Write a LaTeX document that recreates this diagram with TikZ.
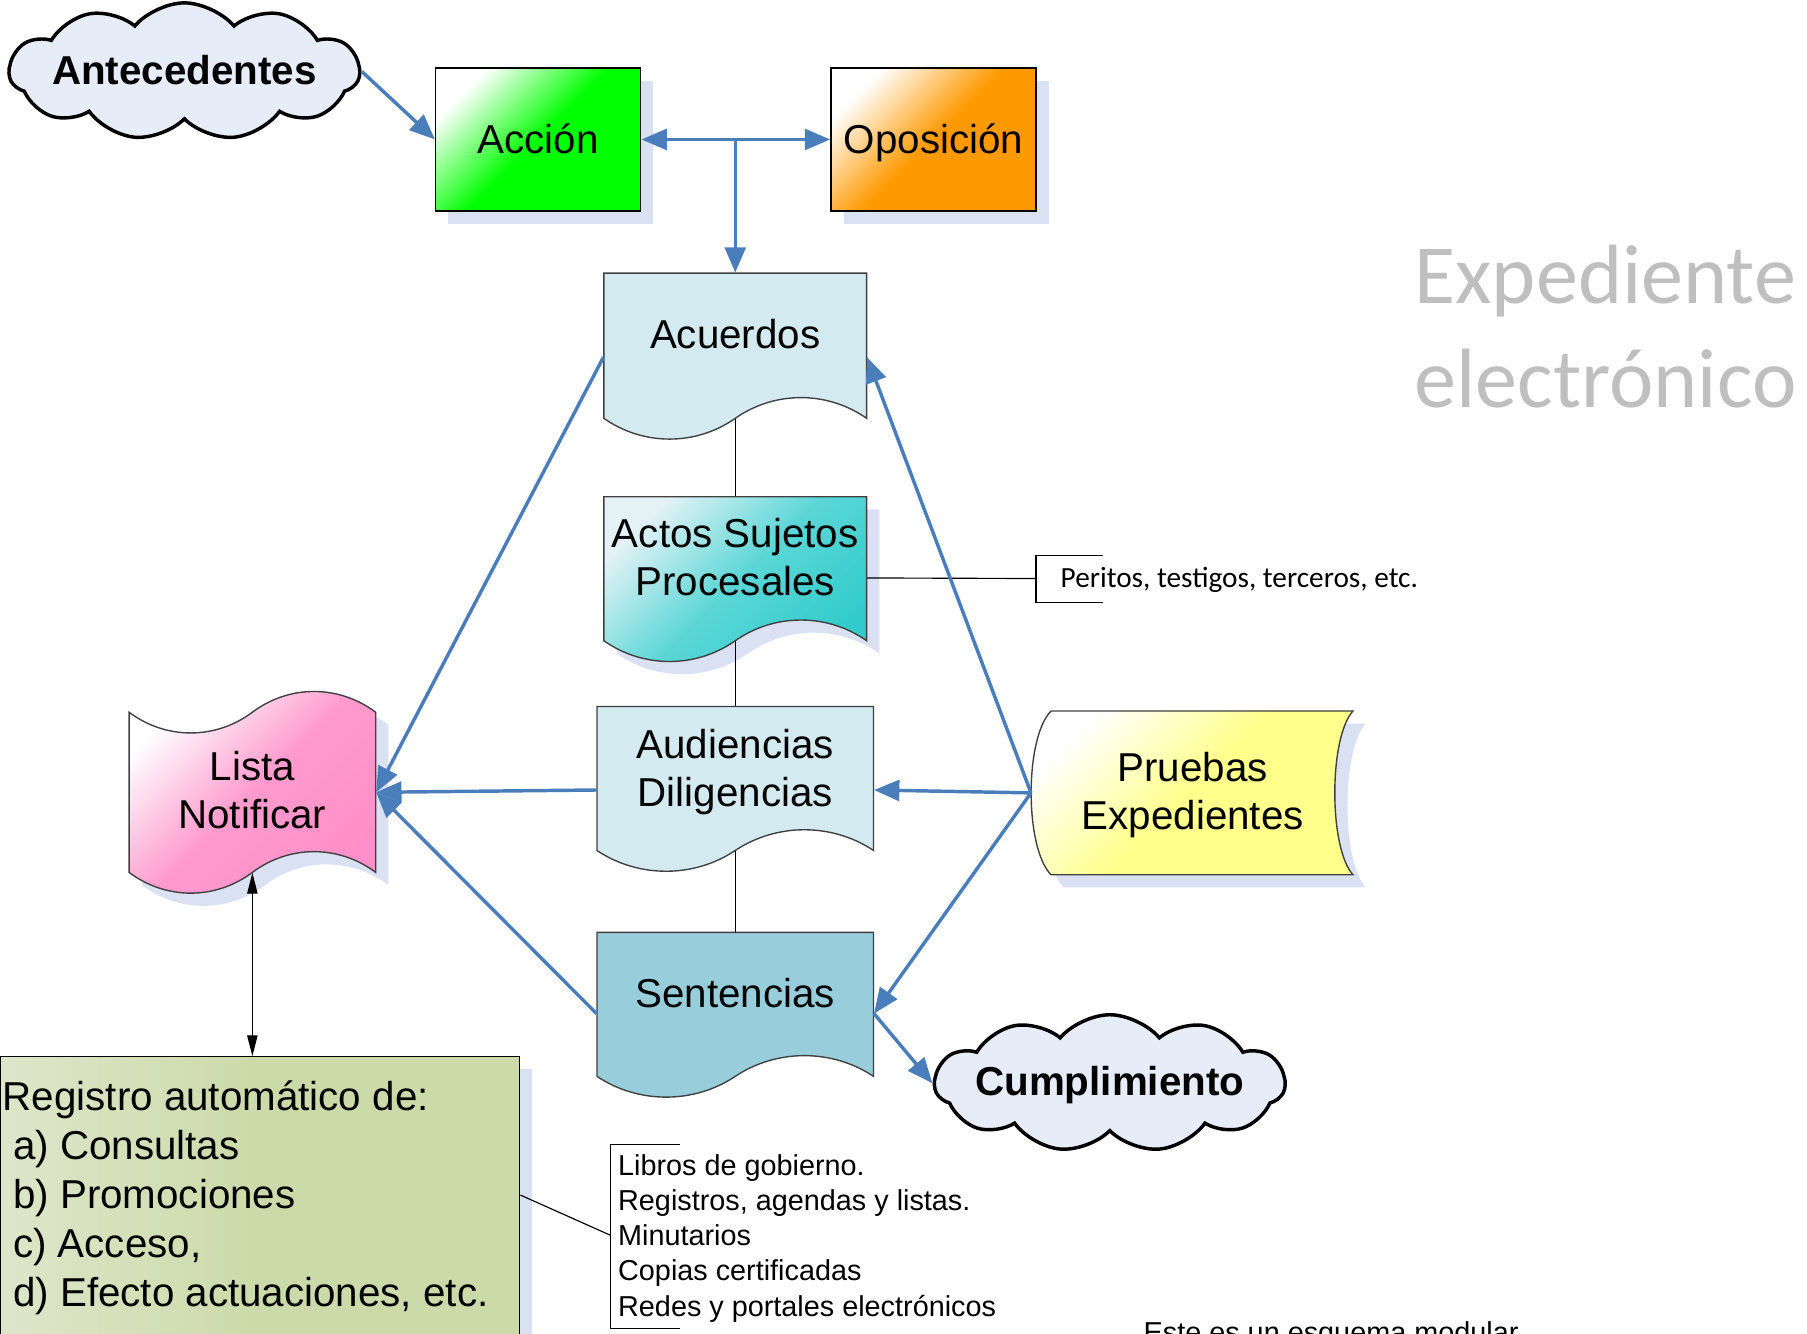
\documentclass[tikz,border=0pt]{standalone}
\usepackage{fontspec}
\setmainfont{Liberation Sans}
\newfontfamily\calibfont{Carlito}
\usetikzlibrary{shapes.symbols,shadows,arrows.meta,calc}
\definecolor{arrblue}{RGB}{74,126,187}
\definecolor{shadowc}{RGB}{217,225,242}
\definecolor{cloudfill}{RGB}{230,237,248}
\definecolor{docfill}{RGB}{210,234,240}
\definecolor{sentfill}{RGB}{152,206,220}
\definecolor{tealc}{RGB}{51,204,204}
\definecolor{pinkc}{RGB}{255,143,200}
\definecolor{yellowc}{RGB}{255,255,140}
\definecolor{orangec}{RGB}{255,153,0}
\definecolor{greenc}{RGB}{0,255,0}
\definecolor{regfill}{RGB}{204,218,169}
\definecolor{reglight}{RGB}{222,230,202}
\definecolor{edge}{RGB}{64,64,64}
\definecolor{graytxt}{RGB}{191,191,191}
\tikzset{
  mainfont/.style={font=\fontsize{17.5}{21}\selectfont},
  listfont/.style={font=\fontsize{12.5}{15.25}\selectfont},
  shadowed/.style={drop shadow={shadow xshift=5.5pt,shadow yshift=-5.5pt,fill=shadowc,opacity=1}},
  holder/.style={rectangle,draw=none,fill=none,inner sep=0pt},
  txt/.style={mainfont,align=center,anchor=base,inner sep=0pt},
  boxst/.style={rectangle,draw=black,line width=0.6pt,minimum width=89pt,minimum height=62pt,inner sep=0pt,mainfont,text height=12.5pt,text depth=0.5pt},
  cloudst/.style={cloud,cloud puffs=11,cloud puff arc=100,cloud ignores aspect,draw=black,line width=1.5pt,fill=cloudfill,minimum width=152pt,minimum height=59.5pt,inner sep=0pt},
  cloudtxt/.style={font=\bfseries\fontsize{17.5}{21}\selectfont,anchor=base,inner sep=0pt},
  shapeline/.style={draw=edge,line width=0.6pt},
  tipb/.tip={Triangle[length=11pt,width=9pt]},
  barrow/.style={draw=arrblue,line width=1.5pt,-tipb},
  thinline/.style={draw=black,line width=0.5pt},
  docpath/.style n args={4}{insert path={(#1,#2) -- (#3,#2) -- (#3,#4)
    .. controls ({#3-0.15*(#3-#1)},{#4-24}) and ({#3-0.35*(#3-#1)},{#4-24}) .. ({(#1+#3)/2},#4)
    .. controls ({#1+0.35*(#3-#1)},{#4+24}) and ({#1+0.15*(#3-#1)},{#4+24}) .. (#1,#4) -- cycle}},
  tapepath/.style n args={4}{insert path={(#1,#2)
    .. controls ({#1+0.15*(#3-#1)},{#2+24}) and ({#1+0.35*(#3-#1)},{#2+24}) .. ({(#1+#3)/2},#2)
    .. controls ({#1+0.65*(#3-#1)},{#2-24}) and ({#1+0.85*(#3-#1)},{#2-24}) .. (#3,#2)
    -- (#3,#4)
    .. controls ({#3-0.15*(#3-#1)},{#4-24}) and ({#3-0.35*(#3-#1)},{#4-24}) .. ({(#1+#3)/2},#4)
    .. controls ({#1+0.35*(#3-#1)},{#4+24}) and ({#1+0.15*(#3-#1)},{#4+24}) .. (#1,#4) -- cycle}},
}
\begin{document}
\begin{tikzpicture}[x=0.5pt,y=-0.5pt]
\useasboundingbox (0,0) rectangle (1568,1157);

% clouds
\node[cloudst] (ant) at (160,62) {};
\node[cloudtxt] (ant-t) at (160,73) {Antecedentes};
\node[cloudst] (cump) at (963,940) {};
\node[cloudtxt] (cump-t) at (963,951) {Cumplimiento};

% top boxes
\node[boxst,shadowed,top color=white,bottom color=greenc,middle color=greenc,shading angle=45] (accion) at (467,121) {Acción};
\node[boxst,shadowed,top color=white,bottom color=orangec,middle color=orangec,shading angle=45] (oposicion) at (810,121) {Oposición};

% documents
\path[shapeline,fill=docfill,docpath={524}{237}{752}{363}];
\node[holder,minimum width=114pt,minimum height=63pt] (acuerdos) at (638,300) {};
\node[txt] (acuerdos-t) at (638,302) {Acuerdos};

\path[shapeline,shadowed,top color=docfill!60!white,bottom color=tealc,middle color=tealc!80!white,shading angle=45,docpath={524}{431}{752}{556}];
\node[holder,minimum width=114pt,minimum height=62.5pt] (actos) at (638,493.5) {};
\node[txt] (actos-t) at (638,517) {Actos Sujetos\\Procesales};

\path[shapeline,fill=docfill,docpath={518}{613}{758}{738}];
\node[holder,minimum width=120pt,minimum height=62.5pt] (audiencias) at (638,675.5) {};
\node[txt] (audiencias-t) at (638,700) {Audiencias\\Diligencias};

\path[shapeline,fill=sentfill,docpath={518}{809}{758}{934}];
\node[holder,minimum width=120pt,minimum height=62.5pt] (sentencias) at (638,871.5) {};
\node[txt] (sentencias-t) at (638,874) {Sentencias};

% Lista Notificar (tape)
\path[shapeline,shadowed,top color=white,bottom color=pinkc,middle color=pinkc!90!white,shading angle=45,tapepath={112}{618}{326}{757}];
\node[holder,minimum width=107pt,minimum height=69.5pt] (lista) at (219,687.5) {};
\node[txt] (lista-t) at (219,719) {Lista\\Notificar};

% Pruebas Expedientes (stored data)
\path[shapeline,shadowed,top color=white,bottom color=yellowc,middle color=yellowc,shading angle=45]
  (912,617) -- (1174,617) .. controls (1153,640) and (1153,736) .. (1174,759)
  -- (912,759) .. controls (889,736) and (889,640) .. (912,617) -- cycle;
\node[holder,minimum width=139.5pt,minimum height=71pt] (pruebas) at (1034.5,688) {};
\node[txt] (pruebas-t) at (1035,720) {Pruebas\\Expedientes};

% Registro
\node[rectangle,draw=black,line width=0.6pt,shadowed,left color=reglight,right color=regfill,middle color=regfill,minimum width=225.5pt,minimum height=129pt,inner sep=0pt] (registro) at (225.5,1046) {};
\node[align=left,anchor=base west,inner sep=0pt,font=\fontsize{17.5}{21.25}\selectfont] (registro-t) at (2,1133.5)
  {Registro automático de:\\\hspace*{4.5pt}a) Consultas\\\hspace*{4.5pt}b) Promociones\\\hspace*{4.5pt}c) Acceso,\\\hspace*{4.5pt}d) Efecto actuaciones, etc.};

% annotations
\coordinate (perb) at (899,502);
\node[anchor=base west,inner sep=0pt,font=\calibfont\fontsize{12.7}{15}\selectfont] (peritos) at (920,510) {Peritos, testigos, terceros, etc.};
\draw[thinline] ([yshift=-4pt]actos.east) -- (perb);
\draw[thinline] (perb) ++(58,-20) -- ++(-58,0) -- ++(0,41) -- ++(58,0);

\coordinate (libb) at (530,1072);
\node[listfont,align=left,anchor=base west,inner sep=0pt] (libros) at (536,1142)
  {Libros de gobierno.\\Registros, agendas y listas.\\Minutarios\\Copias certificadas\\Redes y portales electrónicos};
\draw[thinline] ([yshift=4.5pt]registro.east) -- (libb);
\draw[thinline] (libb) ++(60,-79) -- ++(-60,0) -- ++(0,160) -- ++(60,0);

\node[listfont,anchor=base west,inner sep=0pt] (esquema) at (992,1165) {Este es un esquema modular};

\node[anchor=base west,inner sep=0pt,align=left,text=graytxt,font=\calibfont\fontsize{36.5}{45.5}\selectfont] (expediente) at (1227,354) {Expediente\\electrónico};

% thin connectors between documents
\draw[thinline] (acuerdos.south) -- (actos.north);
\draw[thinline] (actos.south) -- (audiencias.north);
\draw[thinline] (audiencias.south) -- (sentencias.north);
\draw[thinline,{Triangle[length=9pt,width=4.5pt]}-{Triangle[length=9pt,width=4.5pt]}] (lista.south) -- (lista.south |- registro.north);

% blue arrows
\draw[barrow] (ant.east) -- (accion.west);
\draw[barrow,tipb-tipb] (accion.east) -- (oposicion.west);
\draw[barrow] (acuerdos.north |- accion.east) -- (acuerdos.north);
\draw[barrow] ([yshift=-5pt]acuerdos.west) -- (lista.east);
\draw[barrow] ([yshift=-5pt]audiencias.west) -- (lista.east);
\draw[barrow] ([yshift=-4pt]sentencias.west) -- (lista.east);
\draw[barrow] (pruebas.west) -- ([yshift=-5pt]acuerdos.east);
\draw[barrow] (pruebas.west) -- ([yshift=-5pt]audiencias.east);
\draw[barrow] (pruebas.west) -- ([yshift=-4pt]sentencias.east);
\draw[barrow] ([yshift=-4pt]sentencias.east) -- (cump.west);
\end{tikzpicture}
\end{document}
